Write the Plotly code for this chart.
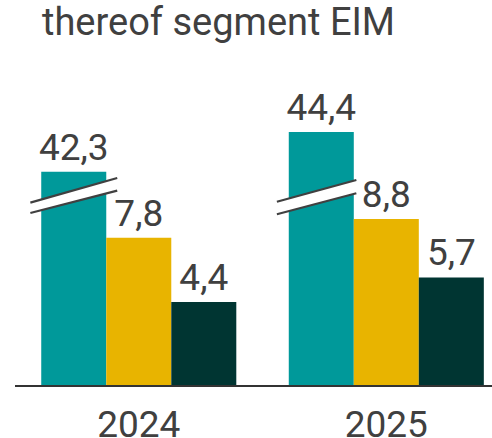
import plotly.graph_objects as go

# Data
years = ["2024", "2025"]
series_a = [42.3, 44.4]   # teal, shown on a broken axis
series_b = [7.8, 8.8]     # yellow
series_c = [4.4, 5.7]     # dark green

# Amount cut out of the broken (teal) bars
BREAK_OFFSET = 31.0

TEAL = "#00999A"
YELLOW = "#E8B400"
DARK = "#003532"
TEXT = "#404040"
FONT = "Roboto"


def fmt(v):
    return f"{v:.1f}".replace(".", ",")


fig = go.Figure()
bar_common = dict(
    textposition="outside",
    constraintext="none",
    cliponaxis=False,
    textfont=dict(family=FONT, size=37, color=TEXT),
    marker_line_width=0,
    showlegend=False,
    hoverinfo="skip",
)
fig.add_bar(x=years, y=[v - BREAK_OFFSET for v in series_a],
            text=[fmt(v) for v in series_a], marker_color=TEAL, **bar_common)
fig.add_bar(x=years, y=series_b, text=[fmt(v) for v in series_b],
            marker_color=YELLOW, **bar_common)
fig.add_bar(x=years, y=series_c, text=[fmt(v) for v in series_c],
            marker_color=DARK, **bar_common)

# Axis-break marks over the teal bars: white band between two slanted lines
breaks = [
    # (x_left, x_right, y_top_left, y_top_right, y_bot_left, y_bot_right) in axis units
    (-0.438, -0.087, 9.66, 10.97, 9.11, 10.30),
    (0.558, 0.879, 9.71, 10.86, 9.05, 10.16),
]
for x0, x1, yt0, yt1, yb0, yb1 in breaks:
    fig.add_shape(type="path", xref="x", yref="y",
                  path=f"M {x0},{yt0} L {x1},{yt1} L {x1},{yb1} L {x0},{yb0} Z",
                  fillcolor="white", line_width=0, layer="above")
    fig.add_shape(type="line", xref="x", yref="y", x0=x0, y0=yt0, x1=x1, y1=yt1,
                  line=dict(color=TEXT, width=2.2), layer="above")
    fig.add_shape(type="line", xref="x", yref="y", x0=x0, y0=yb0, x1=x1, y1=yb1,
                  line=dict(color=TEXT, width=2.2), layer="above")

fig.update_layout(
    width=492,
    height=438,
    margin=dict(l=15, r=0, t=60, b=53, autoexpand=False),
    plot_bgcolor="white",
    paper_bgcolor="white",
    barmode="group",
    bargap=0.212,
    bargroupgap=0,
    font=dict(family=FONT, color=TEXT),
    title=dict(text="thereof segment EIM", font=dict(family=FONT, size=38, color=TEXT),
               xref="container", x=42 / 492, xanchor="left",
               yref="container", y=1 - 8 / 438, yanchor="top", pad=dict(t=0, l=0)),
    xaxis=dict(
        type="category",
        range=[-0.5, 1.427],
        showline=True,
        linecolor="#333333",
        linewidth=2,
        showgrid=False,
        ticks="",
        tickfont=dict(family=FONT, size=37, color=TEXT),
        ticklabelstandoff=6,
        automargin=False,
    ),
    yaxis=dict(
        range=[0, 17.22],
        visible=False,
        showgrid=False,
        zeroline=False,
        automargin=False,
    ),
)

fig.write_html("out.html")
